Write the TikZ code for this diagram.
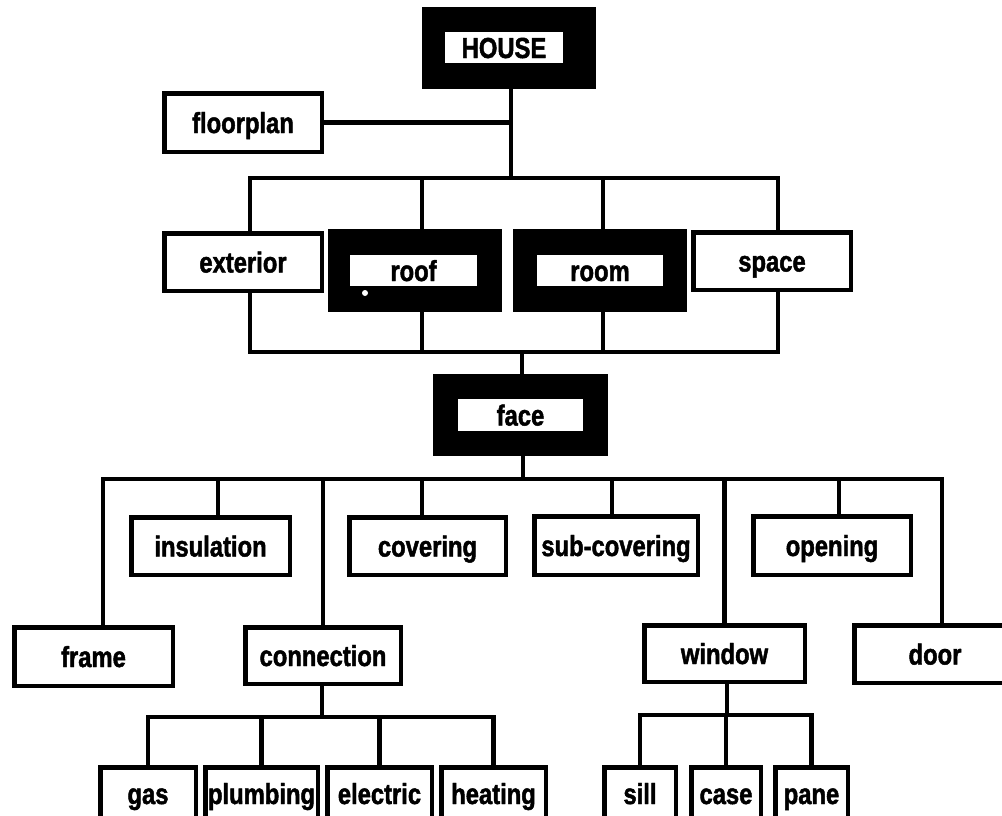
\documentclass[tikz,border=0pt]{standalone}
\usepackage{fontspec}
\setmainfont{Liberation Sans}[FakeStretch=0.82, BoldFeatures={FakeBold=1.6}]
\begin{document}
\begin{tikzpicture}[x=1pt,y=-1pt,
  every node/.style={font=\fontsize{29}{32}\selectfont\bfseries, inner sep=0pt,
                     text height=21pt, text depth=0pt, rectangle},
  box/.style={draw=black, line width=4.5pt, fill=white},
  heavy/.style={fill=black},
  slot/.style={fill=white},
  leaf/.style={box, minimum height=75.5pt, text height=8pt, text depth=10pt},
  conn/.style={line width=4.5pt, line join=miter}
]
\clip (0,0) rectangle (1002,815);
\fill[white] (0,0) rectangle (1002,815);

% ---------- top level ----------
\node[heavy, minimum width=174pt, minimum height=82pt] (house) at (509,48) {};
\node[slot, minimum width=118pt, minimum height=31pt] (houselbl) at (504,47.5) {HOUSE};
\node[box, minimum width=157.5pt, minimum height=58.5pt] (floorplan) at (243,122.5) {floorplan};

% ---------- second level ----------
\node[box, minimum width=157.5pt, minimum height=57.5pt] (exterior) at (243,262) {exterior};
\node[heavy, minimum width=174pt, minimum height=83pt] (roof) at (415,270.5) {};
\node[slot, minimum width=127pt, minimum height=31pt] (rooflbl) at (413.5,270.5) {roof};
\node[heavy, minimum width=174pt, minimum height=83pt] (room) at (600,270.5) {};
\node[slot, minimum width=126pt, minimum height=31pt] (roomlbl) at (600,270.5) {room};
\node[box, minimum width=157.5pt, minimum height=57.5pt] (space) at (772,261) {space};
\fill[white] (365,293) circle (3pt);

% ---------- face ----------
\node[heavy, minimum width=175pt, minimum height=82pt] (face) at (520.5,415) {};
\node[slot, minimum width=125pt, minimum height=32pt] (facelbl) at (520.5,415) {face};

% ---------- parts of a face ----------
\node[box, minimum width=158.5pt, minimum height=57.5pt] (insulation) at (210.5,546) {insulation};
\node[box, minimum width=156.5pt, minimum height=57.5pt] (covering) at (427.5,546) {covering};
\node[box, minimum width=163.5pt, minimum height=58.5pt] (subcovering) at (616,545.5) {sub-covering};
\node[box, minimum width=157.5pt, minimum height=58.5pt] (opening) at (832,545.5) {opening};
\node[box, minimum width=158.5pt, minimum height=58.5pt] (frame) at (93.5,656.5) {frame};
\node[box, minimum width=155.5pt, minimum height=56.5pt] (connection) at (323,655.5) {connection};
\node[box, minimum width=160.5pt, minimum height=56.5pt] (window) at (724.5,653.5) {window};
\node[box, minimum width=161.5pt, minimum height=57.5pt] (door) at (935,654) {door};

% ---------- leaves ----------
\node[leaf, minimum width=95.5pt] (gas) at (148,805) {gas};
\node[leaf, minimum width=112.5pt] (plumbing) at (261.5,805) {plumbing};
\node[leaf, minimum width=104.5pt] (electric) at (379.5,805) {electric};
\node[leaf, minimum width=104.5pt] (heating) at (493.5,805) {heating};
\node[leaf, minimum width=71.5pt] (sill) at (640,805) {sill};
\node[leaf, minimum width=69.5pt] (case) at (726,805) {case};
\node[leaf, minimum width=72.5pt] (pane) at (811.5,805) {pane};

% ---------- junction buses ----------
\coordinate (busA) at (511,178);
\coordinate (busB) at (522,352);
\coordinate (busC) at (523,479);
\coordinate (busD) at (322,717);
\coordinate (busE) at (727,715);

% attachment points that sit off the box centres
\coordinate (extT) at ([xshift=7pt]exterior.north);
\coordinate (extB) at ([xshift=7pt]exterior.south);
\coordinate (roofT) at ([xshift=7pt]roof.north);
\coordinate (roofB) at ([xshift=7pt]roof.south);
\coordinate (roomT) at ([xshift=3pt]room.north);
\coordinate (roomB) at ([xshift=3pt]room.south);
\coordinate (spaceT) at ([xshift=6pt]space.north);
\coordinate (spaceB) at ([xshift=6pt]space.south);
\coordinate (frameT) at ([xshift=9.5pt]frame.north);
\coordinate (insT) at ([xshift=7.5pt]insulation.north);
\coordinate (covT) at ([xshift=-5.5pt]covering.north);
\coordinate (subT) at ([xshift=-4pt]subcovering.north);
\coordinate (openT) at ([xshift=7pt]opening.north);
\coordinate (doorT) at ([xshift=7pt]door.north);

% ---------- connectors ----------
\draw[conn] (house.south -| busA) -- (busA);
\draw[conn] (floorplan.east) -- (floorplan.east -| busA);
\draw[conn] (extT) |- (busA) -| (spaceT);
\draw[conn] (roofT) -- (roofT |- busA);
\draw[conn] (roomT) -- (roomT |- busA);

\draw[conn] (extB) |- (busB) -| (spaceB);
\draw[conn] (roofB) -- (roofB |- busB);
\draw[conn] (roomB) -- (roomB |- busB);
\draw[conn] (face.north -| busB) -- (busB);

\draw[conn] (face.south -| busC) -- (busC);
\draw[conn] (frameT) |- (busC) -| (doorT);
\draw[conn] (insT) -- (insT |- busC);
\draw[conn] (connection.north) -- (connection.north |- busC);
\draw[conn] (covT) -- (covT |- busC);
\draw[conn] (subT) -- (subT |- busC);
\draw[conn] (window.north) -- (window.north |- busC);
\draw[conn] (openT) -- (openT |- busC);

\draw[conn] (connection.south -| busD) -- (busD);
\draw[conn] (gas.north) |- (busD) -| (heating.north);
\draw[conn] (plumbing.north) -- (plumbing.north |- busD);
\draw[conn] (electric.north) -- (electric.north |- busD);

\draw[conn] (window.south -| busE) -- (busE);
\draw[conn] (sill.north) |- (busE) -| (pane.north);
\draw[conn] (case.north) -- (case.north |- busE);
\end{tikzpicture}
\end{document}
